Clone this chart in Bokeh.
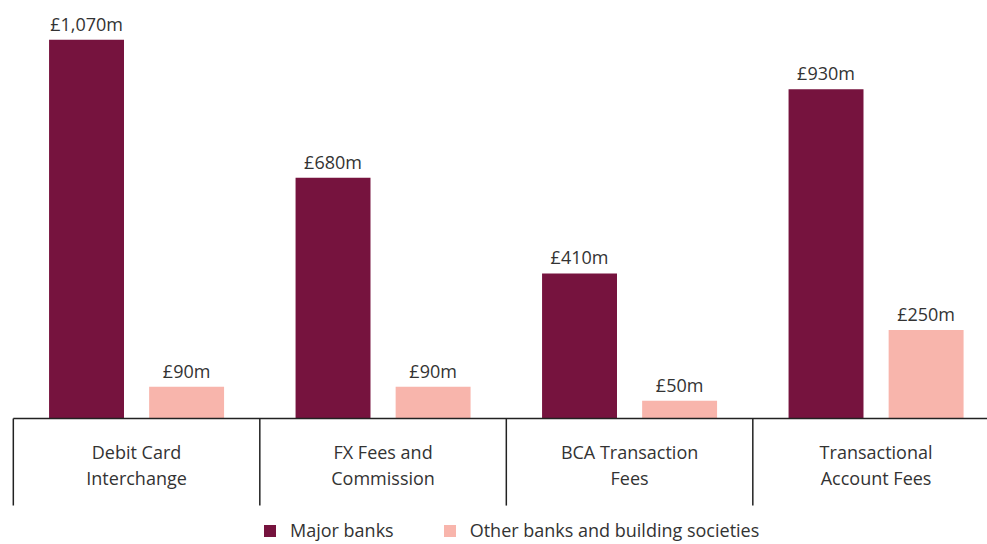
from bokeh.plotting import figure
from bokeh.models import Range1d, ColumnDataSource, Legend, LegendItem
from bokeh.core.properties import value
from bokeh.embed import file_html
from bokeh.resources import INLINE

categories = ["Debit Card\nInterchange", "FX Fees and\nCommission", "BCA Transaction\nFees", "Transactional\nAccount Fees"]
major_banks = [1070, 680, 410, 930]
other_banks = [90, 90, 50, 250]
series_names = ["Major banks", "Other banks and building societies"]

MAROON = "#76133E"
PINK = "#F8B5AC"
TEXT = "#333333"
FONT = "Open Sans"

idx = list(range(len(categories)))
off = 0.203
bw = 0.304

W, H = 987, 544
p = figure(width=W, height=H, output_backend="svg", toolbar_location=None,
           x_axis_type=None, y_axis_type=None, min_border=0,
           x_range=Range1d(-0.552, -0.552 + W / 246.5),
           y_range=Range1d(-356, 1181))
p.outline_line_color = None
p.background_fill_color = "white"

src_major = ColumnDataSource(dict(x=[i - off for i in idx], top=major_banks,
                                  lab=["£{:,}m".format(v) for v in major_banks]))
src_other = ColumnDataSource(dict(x=[i + off for i in idx], top=other_banks,
                                  lab=["£{:,}m".format(v) for v in other_banks]))

r1 = p.vbar(x="x", top="top", bottom=0, width=bw, source=src_major, fill_color=MAROON, line_color=None)
r2 = p.vbar(x="x", top="top", bottom=0, width=bw, source=src_other, fill_color=PINK, line_color=None)

for s in (src_major, src_other):
    p.text(x="x", y="top", text="lab", source=s, text_align="center", text_baseline="bottom",
           y_offset=-4, text_font=value(FONT), text_font_size="18px", text_color=TEXT)

# baseline and separators
p.segment(x0=[-0.5], y0=[0], x1=[len(idx)], y1=[0], line_color="#222222", line_width=1.5)
bounds = [i - 0.5 for i in idx]
p.segment(x0=bounds, y0=[0] * len(bounds), x1=bounds, y1=[-246] * len(bounds),
          line_color="#222222", line_width=1.5)

line1 = [c.split("\n")[0] for c in categories]
line2 = [c.split("\n")[1] for c in categories]
p.text(x=idx, y=[0] * len(idx), text=line1, text_align="center", text_baseline="middle",
       y_offset=34, text_font=value(FONT), text_font_size="18px", text_color=TEXT)
p.text(x=idx, y=[0] * len(idx), text=line2, text_align="center", text_baseline="middle",
       y_offset=60, text_font=value(FONT), text_font_size="18px", text_color=TEXT)

legend = Legend(items=[LegendItem(label=series_names[0], renderers=[r1]),
                       LegendItem(label=series_names[1], renderers=[r2])],
                orientation="horizontal", location=(262, 2), border_line_color=None,
                background_fill_alpha=0, padding=0, margin=0, spacing=48, label_standoff=13,
                glyph_width=15, glyph_height=15, label_height=15, label_text_font_size="18px",
                label_text_font=FONT, label_text_color=TEXT)
p.add_layout(legend)

open("out.html", "w").write(file_html(p, INLINE))
